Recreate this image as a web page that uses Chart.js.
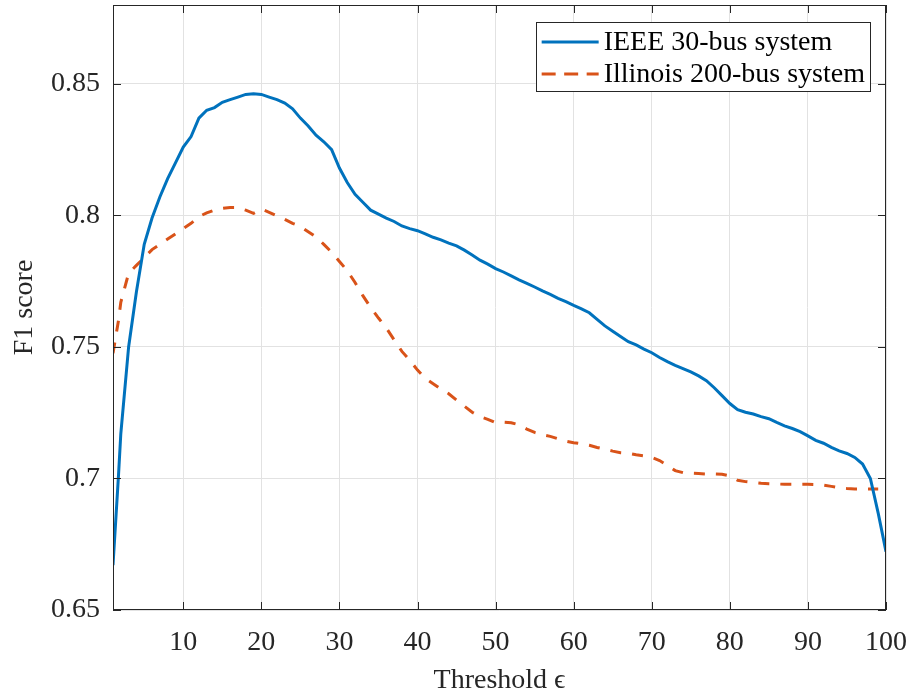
<!DOCTYPE html>
<html>
<head>
<meta charset="utf-8">
<script src="https://cdn.jsdelivr.net/npm/chart.js@4"></script>
<style>
  body { margin: 0; background: #fff; }
</style>
</head>
<body>
<canvas id="myChart" width="912" height="694"></canvas>
<script>
// values
const thresholdsIEEE = [1, 1.7, 2, 3, 4, 5, 6, 7, 8, 9, 10, 11, 12, 13, 14, 15, 16, 17, 18, 19, 20,
    21, 22, 23, 24, 25, 26, 27, 28, 29, 30, 31, 32, 33, 34, 35, 36, 37, 38, 39, 40,
    41, 42, 43, 44, 45, 46, 47, 48, 49, 50, 51, 52, 53, 54, 55, 56, 57, 58, 59, 60,
    61, 62, 63, 64, 65, 66, 67, 68, 69, 70, 71, 72, 73, 74, 75, 76, 77, 78, 79, 80,
    81, 82, 83, 84, 85, 86, 87, 88, 89, 90, 91, 92, 93, 94, 95, 96, 97, 98, 99, 100];
const f1IEEE = [0.667, 0.701, 0.717, 0.750, 0.771, 0.789, 0.799, 0.807, 0.814, 0.820, 0.826,
    0.830, 0.837, 0.840, 0.841, 0.843, 0.844, 0.845, 0.846, 0.8463, 0.846,
    0.845, 0.844, 0.8427, 0.8405, 0.837, 0.834, 0.8305, 0.828, 0.825, 0.818,
    0.8125, 0.808, 0.805, 0.802, 0.8005, 0.799, 0.7977, 0.796, 0.795, 0.7942,
    0.793, 0.7917, 0.7907, 0.7895, 0.7884, 0.7868, 0.785, 0.783, 0.7815, 0.7798,
    0.7785, 0.777, 0.7755, 0.7742, 0.7728, 0.7713, 0.770, 0.7685, 0.7672, 0.7658,
    0.7645, 0.763, 0.7605, 0.758, 0.756, 0.754, 0.752, 0.7508, 0.7492, 0.7478,
    0.746, 0.7444, 0.743, 0.7418, 0.7405, 0.739, 0.7372, 0.7345, 0.7315, 0.7285,
    0.7262, 0.7252, 0.7245, 0.7235, 0.7227, 0.7213, 0.720, 0.719, 0.7178, 0.7162,
    0.7145, 0.7134, 0.7118, 0.7105, 0.7095, 0.708, 0.7055, 0.700, 0.6868, 0.6722];

const thresholdsIllinois = [1, 1.7, 2, 3, 4, 5, 6, 7, 8, 9, 10, 11, 12, 13, 14, 15, 16, 17, 18, 19, 20,
    21, 22, 23, 24, 25, 26, 27, 28, 29, 30, 31, 32, 33, 34, 35, 36, 37, 38, 39, 40,
    41, 42, 43, 44, 45, 46, 47, 48, 49, 50, 51, 52, 53, 54, 55, 56, 57, 58, 59, 60,
    61, 62, 63, 64, 65, 66, 67, 68, 69, 70, 71, 72, 73, 74, 75, 76, 77, 78, 79, 80,
    81, 82, 83, 84, 85, 86, 87, 88, 89, 90, 91, 92, 93, 94, 95, 96, 97, 98, 99];
const f1Illinois = [0.7476, 0.760, 0.767, 0.778, 0.781, 0.784, 0.787, 0.789, 0.791, 0.793, 0.795,
    0.797, 0.7995, 0.801, 0.802, 0.8027, 0.803, 0.803, 0.802, 0.8008, 0.8024,
    0.8012, 0.7998, 0.7985, 0.797, 0.7958, 0.7938, 0.7918, 0.789, 0.786, 0.7825,
    0.779, 0.7745, 0.7695, 0.765, 0.761, 0.7572, 0.7527, 0.7483, 0.745, 0.7412,
    0.738, 0.736, 0.734, 0.7322, 0.7298, 0.7275, 0.7252, 0.7235, 0.7225, 0.7212,
    0.7214, 0.7212, 0.7204, 0.7188, 0.7175, 0.7166, 0.716, 0.7151, 0.7142, 0.7136,
    0.7132, 0.7126, 0.7118, 0.7111, 0.7104, 0.7098, 0.7096, 0.709, 0.7086, 0.708,
    0.7068, 0.705, 0.703, 0.7022, 0.702, 0.7019, 0.7017, 0.7017, 0.7016, 0.701,
    0.6993, 0.6988, 0.6985, 0.6982, 0.698, 0.6979, 0.6978, 0.6978, 0.6978, 0.6978,
    0.6977, 0.6975, 0.697, 0.6965, 0.6962, 0.696, 0.696, 0.696, 0.696];

const xTickValues = [10, 20, 30, 40, 50, 60, 70, 80, 90, 100];
const yTickValues = [0.65, 0.7, 0.75, 0.8, 0.85];
const yTickLabels = ['0.65', '0.7', '0.75', '0.8', '0.85'];

const serif = 'Liberation Serif, Times New Roman, serif';
const axisColor = '#262626';

// MATLAB style box with ticks pointing inward, plus a framed legend
const matlabBox = {
    id: 'matlabBox',
    afterDraw(chart) {
        const ctx = chart.ctx;
        const a = chart.chartArea;
        const xs = chart.scales.x, ys = chart.scales.y;
        const tl = 8;
        ctx.save();
        ctx.strokeStyle = axisColor;
        ctx.lineWidth = 1;
        ctx.strokeRect(a.left + 0.5, a.top + 0.5, a.right - a.left - 1, a.bottom - a.top - 1);
        ctx.beginPath();
        xs.ticks.forEach(t => {
            const px = Math.round(xs.getPixelForValue(t.value)) + 0.5;
            ctx.moveTo(px, a.bottom); ctx.lineTo(px, a.bottom - tl);
            ctx.moveTo(px, a.top); ctx.lineTo(px, a.top + tl);
        });
        ys.ticks.forEach(t => {
            const py = Math.round(ys.getPixelForValue(t.value)) + 0.5;
            ctx.moveTo(a.left, py); ctx.lineTo(a.left + tl, py);
            ctx.moveTo(a.right, py); ctx.lineTo(a.right - tl, py);
        });
        ctx.stroke();

        // legend
        ctx.font = '28px ' + serif;
        const sets = chart.data.datasets;
        const textW = Math.max(...sets.map(d => ctx.measureText(d.label).width));
        const lineLen = 57, padL = 6, gap = 5, padR = 5, rowH = 32;
        const boxW = padL + lineLen + gap + textW + padR;
        const boxH = rowH * sets.length + 5;
        const bx = a.right - 16 - boxW;
        const by = a.top + 17;
        ctx.fillStyle = '#fff';
        ctx.fillRect(bx, by, boxW, boxH);
        ctx.strokeStyle = axisColor;
        ctx.strokeRect(Math.round(bx) + 0.5, Math.round(by) + 0.5, Math.round(boxW), Math.round(boxH));
        sets.forEach((d, i) => {
            const cy = by + 20 + i * rowH;
            ctx.strokeStyle = d.borderColor;
            ctx.lineWidth = d.borderWidth;
            ctx.setLineDash(d.borderDash ? [14, 8.5] : []);
            ctx.beginPath();
            ctx.moveTo(bx + padL, cy);
            ctx.lineTo(bx + padL + lineLen, cy);
            ctx.stroke();
            ctx.setLineDash([]);
            ctx.fillStyle = '#000';
            ctx.textBaseline = 'middle';
            ctx.fillText(d.label, bx + padL + lineLen + gap, cy + 1);
        });
        ctx.restore();
    }
};

const ctx = document.getElementById('myChart').getContext('2d');
const myChart = new Chart(ctx, {
    type: 'line',
    data: {
        datasets: [
            {
                label: 'IEEE 30-bus system',
                data: thresholdsIEEE.map((x, i) => ({ x: x, y: f1IEEE[i] })),
                borderColor: '#0072BD',
                borderWidth: 3,
                pointRadius: 0,
                fill: false,
                tension: 0
            },
            {
                label: 'Illinois 200-bus system',
                data: thresholdsIllinois.map((x, i) => ({ x: x, y: f1Illinois[i] })),
                borderColor: '#D95319',
                borderWidth: 3,
                borderDash: [11, 11],
                pointRadius: 0,
                fill: false,
                tension: 0
            }
        ]
    },
    options: {
        responsive: false,
        animation: false,
        devicePixelRatio: 1,
        layout: { padding: { top: 5, right: 26, left: 0, bottom: 0 } },
        plugins: { legend: { display: false }, tooltip: { enabled: false } },
        scales: {
            x: {
                type: 'linear',
                min: 1,
                max: 100,
                afterBuildTicks: s => { s.ticks = xTickValues.map(v => ({ value: v })); },
                afterFit: s => { s.height = 84; s.paddingLeft = 0; s.paddingRight = 0; },
                grid: { color: '#e2e2e2', drawTicks: false },
                border: { display: false },
                ticks: {
                    font: { family: serif, size: 28 },
                    color: axisColor,
                    padding: 16,
                    maxRotation: 0,
                    autoSkip: false
                },
                title: {
                    display: true,
                    text: 'Threshold \u03f5',
                    font: { family: serif, size: 28 },
                    color: axisColor,
                    padding: { top: 0, bottom: -3 }
                }
            },
            y: {
                type: 'linear',
                min: 0.65,
                max: 0.88,
                afterBuildTicks: s => { s.ticks = yTickValues.map(v => ({ value: v })); },
                afterFit: s => { s.width = 113; s.paddingTop = 0; s.paddingBottom = 0; },
                grid: { color: '#e2e2e2', drawTicks: false },
                border: { display: false },
                ticks: {
                    font: { family: serif, size: 28 },
                    color: axisColor,
                    padding: 13,
                    autoSkip: false,
                    callback: (v, i) => yTickLabels[i]
                },
                title: {
                    display: true,
                    text: 'F1 score',
                    font: { family: serif, size: 28 },
                    color: axisColor,
                    padding: { top: 8, bottom: 0 }
                }
            }
        }
    },
    plugins: [matlabBox]
});
</script>
</body>
</html>
